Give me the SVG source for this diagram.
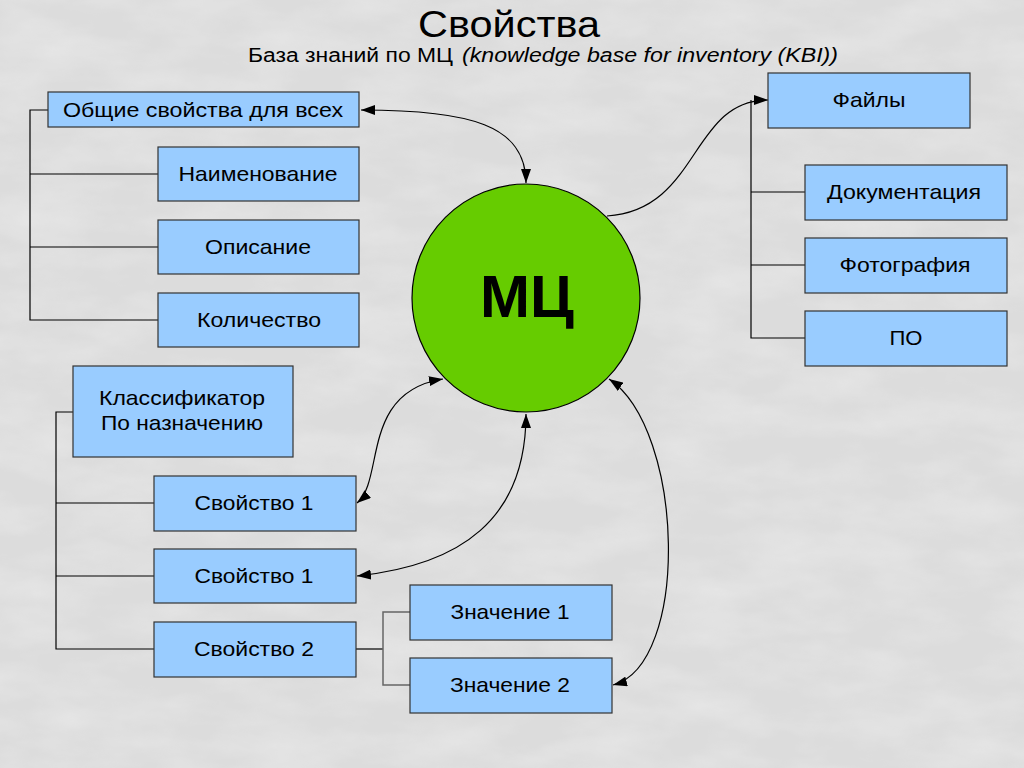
<svg xmlns="http://www.w3.org/2000/svg" width="1024" height="768" viewBox="0 0 1024 768">
<style>
.box{fill:#99ccff;stroke:#333;stroke-width:1.2}
.t{font-family:"Liberation Sans",Arial,sans-serif;font-size:21px;fill:#000;text-anchor:middle}
.h{font-family:"Liberation Sans",Arial,sans-serif;fill:#000}
.tree{fill:none;stroke:#000;stroke-width:1.2}
.tree2{fill:none;stroke:#666;stroke-width:1.5}
.arr{fill:none;stroke:#000;stroke-width:1.2;marker-start:url(#ah);marker-end:url(#ah)}
.arr1{fill:none;stroke:#000;stroke-width:1.2;marker-end:url(#ah)}
</style>
<defs>
<marker id="ah" viewBox="0 0 14 10" refX="14" refY="5" markerWidth="14" markerHeight="10" markerUnits="userSpaceOnUse" orient="auto-start-reverse">
<path d="M0,0 L14,5 L0,10 Z" fill="#000"/>
</marker>
<filter id="marble" x="0" y="0" width="100%" height="100%">
<feTurbulence type="fractalNoise" baseFrequency="0.012 0.03" numOctaves="4" seed="3"/>
<feColorMatrix type="matrix" values="0 0 0 0 1  0 0 0 0 1  0 0 0 0 1  0.9 0 0 0 -0.3"/>
</filter>
</defs>
<rect width="1024" height="768" fill="#dcdcdc"/>
<rect width="1024" height="768" filter="url(#marble)" opacity="0.5"/>

<g id="title">
<text class="h" x="418" y="37" font-size="36" textLength="182" lengthAdjust="spacingAndGlyphs">Свойства</text>
<text class="h" x="248" y="62" font-size="20" textLength="205" lengthAdjust="spacingAndGlyphs">База знаний по МЦ</text>
<text class="h" x="462" y="62" font-size="20" font-style="italic" textLength="376" lengthAdjust="spacingAndGlyphs">(knowledge base for inventory (KBI))</text>
</g>

<g id="connectors">
<path class="tree" d="M48,110 H30 V320 H158 M30,174 H158 M30,247 H158"/>
<path class="tree" d="M751,100 V338 H805 M751,192 H805 M751,265 H805"/>
<path class="tree" d="M73,412 H56 V649 H154 M56,503 H154 M56,576 H154"/>
<path class="tree" d="M356,649 H383"/>
<path class="tree2" d="M410,612 H383 V685 H410"/>
<path class="arr" d="M361,110 C470,110 526,125 526,183"/>
<path class="arr1" d="M607,216 C700,210 690,100 768,100"/>
<path class="arr" d="M357,503 C385,480 360,392 443,379"/>
<path class="arr" d="M357,576 C460,565 526,520 526,414"/>
<path class="arr" d="M613,685 C690,665 685,430 609,379"/>
</g>

<g id="node-mc">
<circle cx="526" cy="298" r="114" fill="#66cc00" stroke="#000" stroke-width="1.2"/>
<text x="527" y="317" font-family="Liberation Sans,Arial,sans-serif" font-size="60" font-weight="bold" text-anchor="middle">МЦ</text>
</g>

<g id="node-common"><rect class="box" x="48" y="92" width="311" height="35"/><text class="t" x="203" y="117" textLength="280" lengthAdjust="spacingAndGlyphs">Общие свойства для всех</text></g>
<g id="node-name"><rect class="box" x="158" y="147" width="201" height="54"/><text class="t" x="258" y="181" textLength="159" lengthAdjust="spacingAndGlyphs">Наименование</text></g>
<g id="node-desc"><rect class="box" x="158" y="220" width="201" height="54"/><text class="t" x="258" y="254" textLength="106" lengthAdjust="spacingAndGlyphs">Описание</text></g>
<g id="node-qty"><rect class="box" x="158" y="293" width="201" height="54"/><text class="t" x="259" y="327" textLength="124" lengthAdjust="spacingAndGlyphs">Количество</text></g>

<g id="node-files"><rect class="box" x="768" y="73" width="202" height="55"/><text class="t" x="869" y="107" textLength="73" lengthAdjust="spacingAndGlyphs">Файлы</text></g>
<g id="node-doc"><rect class="box" x="805" y="165" width="202" height="55"/><text class="t" x="904" y="199" textLength="154" lengthAdjust="spacingAndGlyphs">Документация</text></g>
<g id="node-photo"><rect class="box" x="805" y="238" width="202" height="55"/><text class="t" x="905" y="272" textLength="131" lengthAdjust="spacingAndGlyphs">Фотография</text></g>
<g id="node-po"><rect class="box" x="805" y="311" width="202" height="55"/><text class="t" x="906" y="345" textLength="33" lengthAdjust="spacingAndGlyphs">ПО</text></g>

<g id="node-class"><rect class="box" x="73" y="366" width="220" height="91"/><text class="t" x="182" y="405" textLength="166" lengthAdjust="spacingAndGlyphs">Классификатор</text><text class="t" x="182" y="430" textLength="162" lengthAdjust="spacingAndGlyphs">По назначению</text></g>
<g id="node-prop1a"><rect class="box" x="154" y="476" width="202" height="55"/><text class="t" x="254" y="510" textLength="119" lengthAdjust="spacingAndGlyphs">Свойство 1</text></g>
<g id="node-prop1b"><rect class="box" x="154" y="549" width="202" height="54"/><text class="t" x="254" y="583" textLength="119" lengthAdjust="spacingAndGlyphs">Свойство 1</text></g>
<g id="node-prop2"><rect class="box" x="154" y="622" width="202" height="55"/><text class="t" x="254" y="656" textLength="120" lengthAdjust="spacingAndGlyphs">Свойство 2</text></g>
<g id="node-val1"><rect class="box" x="410" y="585" width="202" height="55"/><text class="t" x="510" y="619" textLength="119" lengthAdjust="spacingAndGlyphs">Значение 1</text></g>
<g id="node-val2"><rect class="box" x="410" y="658" width="202" height="55"/><text class="t" x="510" y="692" textLength="120" lengthAdjust="spacingAndGlyphs">Значение 2</text></g>
</svg>
